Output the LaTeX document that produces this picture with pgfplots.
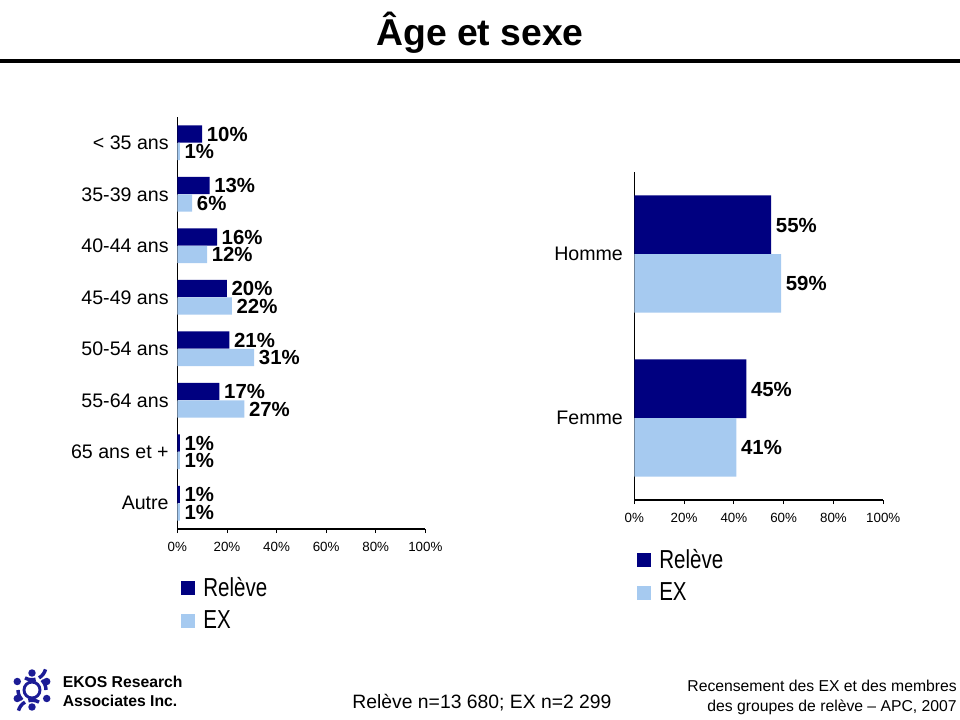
\documentclass[border=0pt]{standalone}
\usepackage{fontspec}
\setmainfont{Liberation Sans}
\usepackage{graphicx}
\usepackage{pgfplots}
\pgfplotsset{compat=1.18}

\definecolor{releve}{RGB}{0,0,128}
\definecolor{ex}{RGB}{166,202,240}
\definecolor{logoblue}{RGB}{28,28,150}

\newcommand\fs[2]{\fontsize{#1}{#2}\selectfont}
\newcommand\leg[1]{\scalebox{0.79}[1]{#1}}

\pgfplotsset{
  hbars/.style={
    xbar, scale only axis,
    xmin=0, xmax=100,
    axis lines*=left,
    axis line style={-, black, line width=0.8pt},
    xtick={0,20,...,100},
    xticklabels={0\%,20\%,40\%,60\%,80\%,100\%},
    xtick align=outside,
    major tick length=3pt,
    x tick style={black, line width=0.6pt},
    ytick style={draw=none},
    x tick label style={font=\fs{10}{12}, yshift=-3.5pt},
    y tick label style={font=\fs{14.7}{17}},
    /pgf/number format/assume math mode=true,
    nodes near coords={\pgfmathprintnumber{\pgfplotspointmeta}\%},
    nodes near coords style={font=\bfseries\fs{15.3}{17}, black,
      inner ysep=0pt, text height=11pt, text depth=0pt},
    legend cell align=left,
    legend style={draw=none, fill=none, inner sep=0pt, row sep=9.5pt,
      font=\fs{19.5}{20},
      nodes={inner sep=0pt},
      /tikz/every odd column/.append style={column sep=6pt}},
    legend image code/.code={\fill[##1] (0pt,-5.25pt) rectangle (10.5pt,5.25pt);},
  }
}

\begin{document}
\begin{tikzpicture}[x=0.75pt, y=-0.75pt]
\path[use as bounding box] (0,0) rectangle (960,720);

% title
\node[anchor=base, inner sep=0pt, font=\bfseries\fs{28}{30}] at (480,46) {Âge et sexe};
\draw[line width=3pt] (0,61) -- (960,61);

% age groups
\begin{axis}[hbars,
  at={(133pt,-396.75pt)}, anchor=south west,
  width=186pt, height=309pt,
  ymin=-0.5, ymax=7.5,
  bar width=13.1pt,
  ytick={0,...,7},
  yticklabels={Autre,65 ans et +,55-64 ans,50-54 ans,45-49 ans,40-44 ans,35-39 ans,< 35 ans},
  legend style={at={(0.015,-0.116)}, anchor=north west},
]
\addplot[fill=releve, draw=none, bar shift=6.56pt] coordinates {
  (10,7) (13,6) (16,5) (20,4) (21,3) (17,2) (1,1) (1,0)};
\addplot[fill=ex, draw=none, bar shift=-6.56pt] coordinates {
  (1,7) (6,6) (12,5) (22,4) (31,3) (27,2) (1,1) (1,0)};
\legend{\leg{Relève},\leg{EX}}
\end{axis}

% sex
\begin{axis}[hbars,
  at={(475.7pt,-375pt)}, anchor=south west,
  width=186.75pt, height=246pt,
  ymin=-0.5, ymax=1.5,
  bar width=44pt,
  ytick={0,1},
  yticklabels={Femme,Homme},
  y tick label style={xshift=-2pt},
  legend style={at={(0.011,-0.149)}, anchor=north west},
]
\addplot[fill=releve, draw=none, bar shift=22pt] coordinates {(55,1) (45,0)};
\addplot[fill=ex, draw=none, bar shift=-22pt] coordinates {(59,1) (41,0)};
\legend{\leg{Relève},\leg{EX}}
\end{axis}

% footer
\begin{scope}[shift={(32,690)}]
  \foreach \a in {0,60,...,300} {
    \draw[logoblue, line width=2.6pt] (\a:14) arc[start angle=\a, end angle=\a+45, radius=10.5pt];
    \fill[logoblue] (\a+30:17) circle (2.8pt);
  }
  \draw[logoblue, line width=2.2pt] (0,0) circle (6pt);
\end{scope}
\node[anchor=base west, inner sep=0pt, font=\bfseries\fs{11.8}{14}] at (62.5,687) {EKOS Research};
\node[anchor=base west, inner sep=0pt, font=\bfseries\fs{11.8}{14}] at (62.5,706) {Associates Inc.};
\node[anchor=base, inner sep=0pt, font=\fs{14.5}{16}] at (482,708) {Relève n=13 680; EX n=2 299};
\node[anchor=base east, inner sep=0pt, font=\fs{11.8}{14}] at (957,691) {Recensement des EX et des membres};
\node[anchor=base east, inner sep=0pt, font=\fs{11.8}{14}] at (957,711) {des groupes de relève – APC, 2007};
\end{tikzpicture}
\end{document}
